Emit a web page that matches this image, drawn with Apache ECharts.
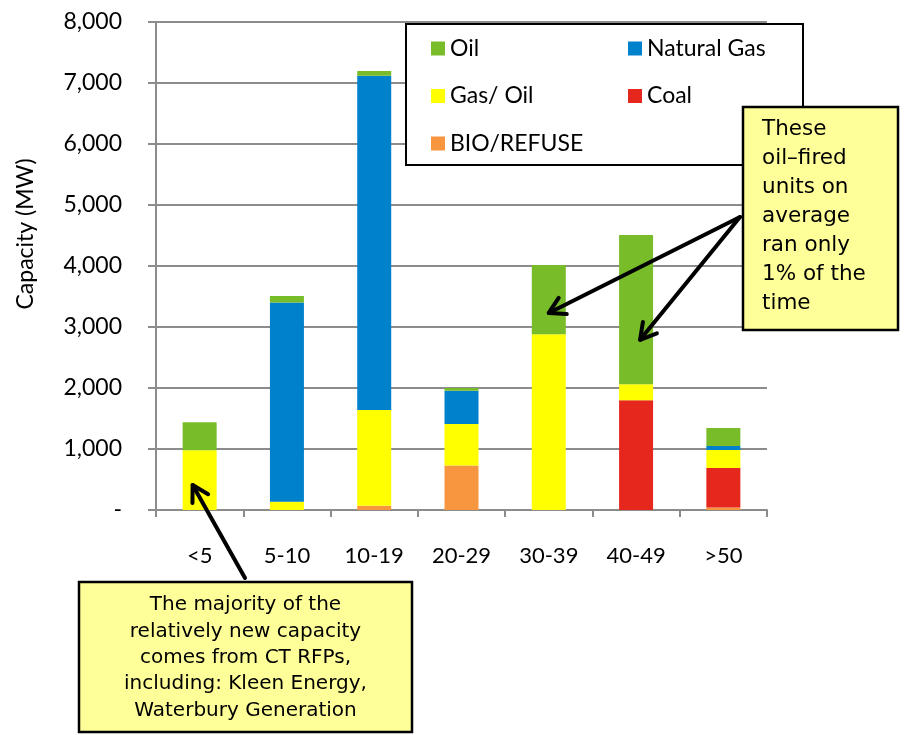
<!DOCTYPE html>
<html>
<head>
<meta charset="utf-8">
<script src="https://cdn.jsdelivr.net/npm/echarts@6/dist/echarts.min.js"></script>
<style>
  html, body { margin: 0; padding: 0; background: #fff; }
  #chart { width: 905px; height: 735px; }
</style>
</head>
<body>
<div id="chart"></div>
<script>
// Capacity by unit age group (years), stacked by fuel type
const categories = ['<5', '5-10', '10-19', '20-29', '30-39', '40-49', '>50'];
const bioRefuse  = [0, 0, 70, 730, 0, 0, 40];
const coal       = [0, 0, 0, 0, 0, 1800, 650];
const gasOil     = [980, 135, 1570, 680, 2880, 260, 295];
const naturalGas = [0, 3265, 5480, 545, 0, 0, 65];
const oil        = [460, 110, 77, 45, 1135, 2450, 295];

const yTicks = { min: 0, max: 8000, interval: 1000 };
const yTitle = 'Capacity (MW)';

const COLORS = {
  oil: '#79BC2A',
  gas: '#0081CC',
  gasOil: '#FFFF00',
  coal: '#E5271E',
  bio: '#F7963E'
};

const axisGray = '#8c8c8c';
const labelFont = 'Lato, "Open Sans", sans-serif';
const noteFont = '"DejaVu Sans", Verdana, sans-serif';

const chart = echarts.init(document.getElementById('chart'), null, { renderer: 'canvas' });

function barSeries(name, data, color) {
  return {
    name: name,
    type: 'bar',
    stack: 'total',
    data: data,
    barWidth: 34,
    itemStyle: { color: color },
    emphasis: { disabled: true },
    animation: false
  };
}

const legendText = { fontFamily: labelFont, fontSize: 23, color: '#000', lineHeight: 20 };

const option = {
  animation: false,
  backgroundColor: '#ffffff',
  grid: { left: 156, right: 138, top: 22, bottom: 225, containLabel: false },
  legend: [
    {
      data: ['Oil', 'Gas/ Oil', 'BIO/REFUSE'],
      orient: 'vertical',
      left: 431, top: 37, padding: 0,
      itemWidth: 14, itemHeight: 14, itemGap: 24.5,
      icon: 'rect',
      z: 5,
      textStyle: legendText
    },
    {
      data: ['Natural Gas', 'Coal'],
      orient: 'vertical',
      left: 628, top: 37, padding: 0,
      itemWidth: 14, itemHeight: 14, itemGap: 24.5,
      icon: 'rect',
      z: 5,
      textStyle: legendText
    }
  ],
  xAxis: {
    type: 'category',
    data: categories,
    boundaryGap: true,
    axisLine: { show: true, lineStyle: { color: axisGray, width: 2 } },
    axisTick: { show: true, interval: 0, length: 7, lineStyle: { color: axisGray, width: 2 } },
    axisLabel: { interval: 0, margin: 35, fontFamily: labelFont, fontSize: 22, color: '#000' },
    splitLine: { show: false }
  },
  yAxis: {
    type: 'value',
    min: yTicks.min, max: yTicks.max, interval: yTicks.interval,
    axisLine: { show: true, lineStyle: { color: axisGray, width: 2 } },
    axisTick: { show: true, length: 8, lineStyle: { color: axisGray, width: 2 } },
    axisLabel: {
      margin: 34,
      fontFamily: labelFont, fontSize: 23, color: '#000',
      formatter: v => v === 0 ? '-' : v.toLocaleString('en-US')
    },
    splitLine: { show: true, lineStyle: { color: axisGray, width: 2 } }
  },
  series: [
    barSeries('BIO/REFUSE', bioRefuse, COLORS.bio),
    barSeries('Coal', coal, COLORS.coal),
    barSeries('Gas/ Oil', gasOil, COLORS.gasOil),
    barSeries('Natural Gas', naturalGas, COLORS.gas),
    barSeries('Oil', oil, COLORS.oil)
  ]
};

chart.setOption(option);

// Arrow built from a shaft plus an open V head
function arrow(from, to) {
  const dx = to[0] - from[0], dy = to[1] - from[1];
  const ang = Math.atan2(dy, dx);
  const len = 18, spread = Math.PI / 6;
  const h1 = [to[0] - len * Math.cos(ang - spread), to[1] - len * Math.sin(ang - spread)];
  const h2 = [to[0] - len * Math.cos(ang + spread), to[1] - len * Math.sin(ang + spread)];
  const style = { stroke: '#000', lineWidth: 4, lineCap: 'round', lineJoin: 'round', fill: null };
  return [
    { type: 'polyline', z: 20, shape: { points: [from, to] }, style: style },
    { type: 'polyline', z: 20, shape: { points: [h1, to, h2] }, style: style }
  ];
}

function toPx(catIdx, value, dx) {
  const p = chart.convertToPixel({ gridIndex: 0 }, [catIdx, value]);
  return [p[0] + (dx || 0), p[1]];
}

const graphics = [
  // vertical axis title
  {
    type: 'text', z: 5,
    x: 26, y: 234,
    rotation: Math.PI / 2,
    style: {
      text: yTitle,
      font: '23px ' + labelFont,
      fill: '#000',
      align: 'center',
      verticalAlign: 'middle'
    }
  },
  // legend frame
  {
    type: 'rect', z: 3,
    shape: { x: 406, y: 24, width: 397, height: 141 },
    style: { fill: '#fff', stroke: '#000', lineWidth: 2 }
  },
  // right note
  {
    type: 'rect', z: 10,
    shape: { x: 743, y: 107, width: 155, height: 223 },
    style: { fill: '#FFFF99', stroke: '#000', lineWidth: 2.5 }
  },
  {
    type: 'text', z: 11,
    left: 762, top: 115,
    style: {
      text: 'These\noil\u2013fired\nunits on\naverage\nran only\n1% of the\ntime',
      font: '21.5px ' + noteFont,
      lineHeight: 29,
      fill: '#000',
      align: 'left'
    }
  },
  // bottom note
  {
    type: 'rect', z: 10,
    shape: { x: 79, y: 582, width: 333, height: 150 },
    style: { fill: '#FFFF99', stroke: '#000', lineWidth: 2.5 }
  },
  {
    type: 'text', z: 11,
    x: 245.5, y: 592,
    style: {
      text: 'The majority of the\nrelatively new capacity\ncomes from CT RFPs,\nincluding: Kleen Energy,\nWaterbury Generation',
      font: '20px ' + noteFont,
      lineHeight: 26.3,
      fill: '#000',
      align: 'center',
      verticalAlign: 'top'
    }
  }
];

graphics.push(...arrow([245, 578], toPx(0, 410, -7)));
graphics.push(...arrow([740, 217], toPx(4, 3230, 0)));
graphics.push(...arrow([740, 217], toPx(5, 2790, 4)));

chart.setOption({ graphic: graphics });
</script>
</body>
</html>
